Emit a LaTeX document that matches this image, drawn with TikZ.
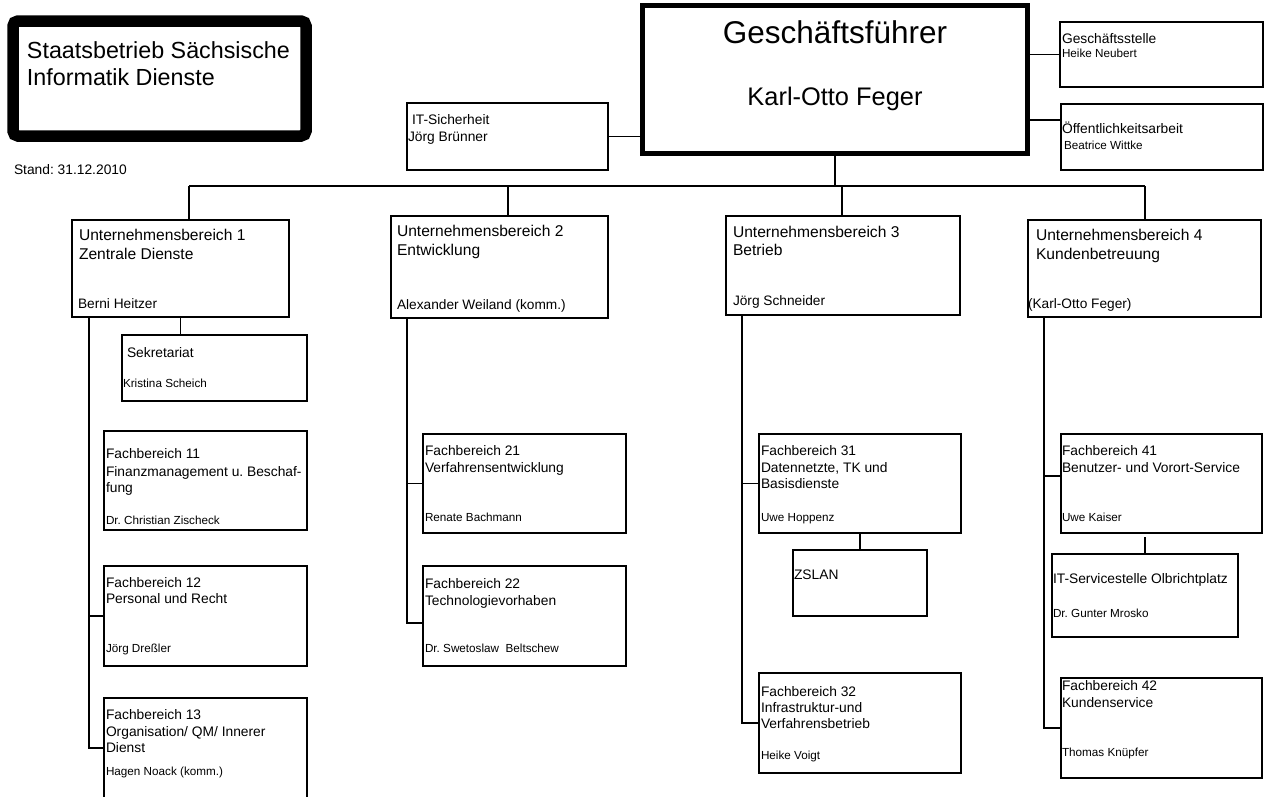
\documentclass[tikz,border=0pt]{standalone}
\usepackage{fontspec}
\setmainfont{Liberation Sans}
\usetikzlibrary{calc}
\frenchspacing
\tikzset{
  thinbox/.style={draw, line width=1.2pt, rectangle, inner sep=0pt, outer sep=0pt, anchor=north west},
  ubbox/.style={draw, line width=2.6pt, rectangle, inner sep=0pt, outer sep=0pt, anchor=north west},
  conn/.style={draw, line width=1.2pt},
  txt/.style={anchor=base west, inner sep=0pt, outer sep=0pt},
  bigt/.style={txt, font=\fontsize{23.3}{27}\selectfont},
  ubt/.style={txt, font=\fontsize{15.6}{19}\selectfont},
  ubn/.style={txt, font=\fontsize{13.7}{16}\selectfont},
  fbt/.style={txt, font=\fontsize{13.8}{16.5}\selectfont},
  fbn/.style={txt, font=\fontsize{11.7}{14}\selectfont},
}
\begin{document}
\begin{tikzpicture}[x=1pt,y=-1pt]
\useasboundingbox[fill=white] (0,0) rectangle (1266,796);

% ---- boxes ----
\node[draw, line width=11.5pt, rounded corners=5pt, rectangle, inner sep=0pt, outer sep=0pt, anchor=north west,
      minimum width=293pt, minimum height=115pt] (title) at (13,21) {};
\node[thinbox, minimum width=201pt, minimum height=67pt] (its) at (407,103) {};
\node[draw, line width=5pt, rectangle, inner sep=0pt, outer sep=0pt, anchor=north west,
      minimum width=385pt, minimum height=148.5pt] (gf) at (642.5,5) {};
\node[thinbox, minimum width=203pt, minimum height=65pt] (gs) at (1060,22) {};
\node[thinbox, minimum width=202pt, minimum height=66pt] (oa) at (1061,104) {};

\node[ubbox, minimum width=217pt, minimum height=97pt] (ub1) at (72,220) {};
\node[ubbox, minimum width=217pt, minimum height=102pt] (ub2) at (391,216) {};
\node[ubbox, minimum width=234pt, minimum height=99pt] (ub3) at (726,216) {};
\node[ubbox, minimum width=233pt, minimum height=97pt] (ub4) at (1028,220) {};

\node[thinbox, minimum width=185pt, minimum height=66pt] (sek) at (122,335) {};
\node[thinbox, minimum width=203pt, minimum height=99pt] (fb11) at (104,431) {};
\node[thinbox, minimum width=203pt, minimum height=100pt] (fb12) at (104,566) {};
\node[thinbox, minimum width=203pt, minimum height=115pt] (fb13) at (104,698) {};

\node[thinbox, minimum width=203pt, minimum height=99pt] (fb21) at (423,434) {};
\node[thinbox, minimum width=203pt, minimum height=100pt] (fb22) at (423,566) {};

\node[thinbox, minimum width=202pt, minimum height=99pt] (fb31) at (759,434) {};
\node[thinbox, minimum width=134pt, minimum height=66pt] (zslan) at (793,550) {};
\node[thinbox, minimum width=202pt, minimum height=100pt] (fb32) at (759,673) {};

\node[thinbox, minimum width=201pt, minimum height=99pt] (fb41) at (1061,434) {};
\node[thinbox, minimum width=186pt, minimum height=83pt] (itsv) at (1052,554) {};
\node[thinbox, minimum width=201pt, minimum height=100pt] (fb42) at (1061,678) {};

% ---- texts ----
\node[bigt] (title1) at (27,58) {Staatsbetrieb Sächsische};
\node[bigt] (title2) at (27,85) {Informatik Dienste};
\node[fbt] (stand) at (14,174) {Stand: 31.12.2010};

\node[anchor=base, inner sep=0pt, font=\fontsize{31.5}{36}\selectfont] (gf1) at (835,43) {Geschäftsführer};
\node[anchor=base, inner sep=0pt, font=\fontsize{25.4}{30}\selectfont] (gf2) at (835,105) {Karl-Otto Feger};

\node[fbt] (its1) at (412,124) {IT-Sicherheit};
\node[fbt] (its2) at (408,141) {Jörg Brünner};
\node[fbt] (gs1) at (1062,43) {Geschäftsstelle};
\node[fbn] (gs2) at (1062,57) {Heike Neubert};
\node[fbt] (oa1) at (1062,133) {Öffentlichkeitsarbeit};
\node[fbn] (oa2) at (1064,149) {Beatrice Wittke};

\node[ubt] (ub1a) at (79,240) {Unternehmensbereich 1};
\node[ubt] (ub1b) at (79,259) {Zentrale Dienste};
\node[ubn] (ub1n) at (78,308) {Berni Heitzer};
\node[ubt] (ub2a) at (397,236) {Unternehmensbereich 2};
\node[ubt] (ub2b) at (397,255) {Entwicklung};
\node[ubn] (ub2n) at (397,309) {Alexander Weiland (komm.)};
\node[ubt] (ub3a) at (733,237) {Unternehmensbereich 3};
\node[ubt] (ub3b) at (733,255) {Betrieb};
\node[ubn] (ub3n) at (733,305) {Jörg Schneider};
\node[ubt] (ub4a) at (1036,240) {Unternehmensbereich 4};
\node[ubt] (ub4b) at (1036,259) {Kundenbetreuung};
\node[ubn] (ub4n) at (1028,308) {(Karl-Otto Feger)};

\node[fbt] (sek1) at (127,357) {Sekretariat};
\node[fbn] (sek2) at (123,387) {Kristina Scheich};

\node[fbt] (fb11a) at (106,458) {Fachbereich 11};
\node[fbt] (fb11b) at (106,476) {Finanzmanagement u. Beschaf-};
\node[fbt] (fb11c) at (106,492) {fung};
\node[fbn] (fb11n) at (106,524) {Dr. Christian Zischeck};
\node[fbt] (fb12a) at (106,587) {Fachbereich 12};
\node[fbt] (fb12b) at (106,603) {Personal und Recht};
\node[fbn] (fb12n) at (106,652) {Jörg Dreßler};
\node[fbt] (fb13a) at (106,719) {Fachbereich 13};
\node[fbt] (fb13b) at (106,736) {Organisation/ QM/ Innerer};
\node[fbt] (fb13c) at (106,752) {Dienst};
\node[fbn] (fb13n) at (106,775) {Hagen Noack (komm.)};

\node[fbt] (fb21a) at (425,455) {Fachbereich 21};
\node[fbt] (fb21b) at (425,472) {Verfahrensentwicklung};
\node[fbn] (fb21n) at (425,521) {Renate Bachmann};
\node[fbt] (fb22a) at (425,588) {Fachbereich 22};
\node[fbt] (fb22b) at (425,605) {Technologievorhaben};
\node[fbn] (fb22n) at (425,652) {Dr. Swetoslaw\ \ Beltschew};

\node[fbt] (fb31a) at (761,455) {Fachbereich 31};
\node[fbt] (fb31b) at (761,472) {Datennetzte, TK und};
\node[fbt] (fb31c) at (761,488) {Basisdienste};
\node[fbn] (fb31n) at (761,521) {Uwe Hoppenz};
\node[fbt] (zs1) at (794,579) {ZSLAN};
\node[fbt] (fb32a) at (761,696) {Fachbereich 32};
\node[fbt] (fb32b) at (761,712) {Infrastruktur-und};
\node[fbt] (fb32c) at (761,728) {Verfahrensbetrieb};
\node[fbn] (fb32n) at (761,759) {Heike Voigt};

\node[fbt] (fb41a) at (1062,455) {Fachbereich 41};
\node[fbt] (fb41b) at (1062,472) {Benutzer- und Vorort-Service};
\node[fbn] (fb41n) at (1062,521) {Uwe Kaiser};
\node[fbt] (itsv1) at (1053,583) {IT-Servicestelle Olbrichtplatz};
\node[fbn] (itsv2) at (1053,617) {Dr. Gunter Mrosko};
\node[fbt] (fb42a) at (1062,690) {Fachbereich 42};
\node[fbt] (fb42b) at (1062,707) {Kundenservice};
\node[fbn] (fb42n) at (1062,756) {Thomas Knüpfer};

% ---- connectors ----
\coordinate (b1) at (189,186);
\coordinate (b2) at (508,186);
\coordinate (b3) at (842,186);
\coordinate (b4) at (1145,186);
\draw[conn] (its.east) -- (its.east -| gf.west);
\draw[conn] (gs.west) -- (gs.west -| gf.east);
\draw[conn] ([yshift=17pt]oa.west) -- ([yshift=17pt]oa.west -| gf.east);
\draw[conn] (gf.south) -- (gf.south |- b1);
\draw[conn] (b1) -- (b4);
\draw[conn] (b1) -- (b1 |- ub1.north);
\draw[conn] (b2) -- (b2 |- ub2.north);
\draw[conn] (b3) -- (b3 |- ub3.north);
\draw[conn] (b4) -- (b4 |- ub4.north);

% UB1
\coordinate (t1) at ([xshift=17pt]ub1.south west);
\draw[conn] (ub1.south) -- (ub1.south |- sek.north);
\draw[conn] (t1) |- ([yshift=-50pt]fb13.north west);
\draw[conn] (t1 |- fb12.west) -- (fb12.west);
% UB2
\coordinate (t2) at ([xshift=16pt]ub2.south west);
\draw[conn] (t2) |- ([yshift=-7pt]fb22.west);
\draw[conn] (t2 |- fb21.west) -- (fb21.west);
% UB3
\coordinate (t3) at ([xshift=16pt]ub3.south west);
\draw[conn] (t3) |- (fb32.west);
\draw[conn] (t3 |- fb31.west) -- (fb31.west);
\draw[conn] (fb31.south -| zslan.north) -- (zslan.north);
% UB4
\coordinate (t4) at ([xshift=16pt]ub4.south west);
\draw[conn] (t4) |- (fb42.west);
\draw[conn] (t4 |- fb41.west) ++(0,-7.5) -- ([yshift=7.5pt]fb41.west);
\draw[conn] (itsv.north) -- ++(0,-17);
\end{tikzpicture}
\end{document}
